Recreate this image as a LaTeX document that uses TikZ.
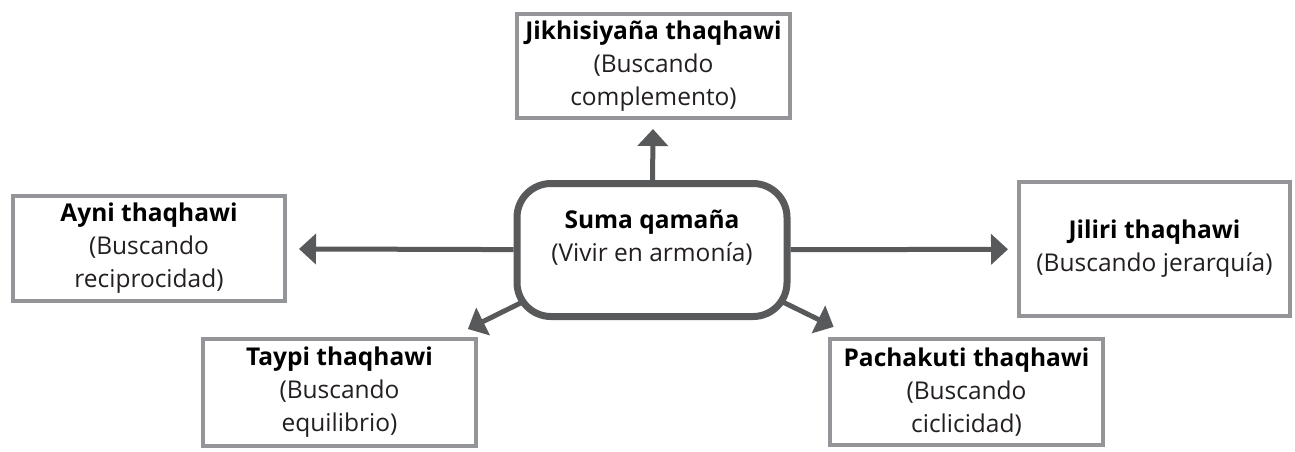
\documentclass[tikz,border=0pt]{standalone}
\usepackage{fontspec}
\setmainfont{Open Sans}
\usetikzlibrary{arrows.meta,backgrounds}
\definecolor{boxgray}{HTML}{939598}
\definecolor{hubgray}{HTML}{58595B}
\definecolor{txt}{HTML}{231F20}
\tikzset{
  box/.style={draw=boxgray, line width=4pt, fill=white, align=center, inner sep=0pt,
    text=txt, font=\fontsize{24.5}{33}\selectfont},
  hub/.style={draw=hubgray, line width=7pt, rounded corners=34pt, fill=white,
    minimum width=270pt, minimum height=133pt},
  hubtext/.style={align=center, inner sep=0pt, text=txt, font=\fontsize{24.5}{33}\selectfont},
  link/.style={draw=hubgray, line width=5pt, -{Triangle[length=17pt,width=30pt]}},
}
\newcommand{\hd}[1]{\textbf{\color{black}#1}}
\begin{document}
\begin{tikzpicture}[x=1pt,y=-1pt]
\useasboundingbox (0,0) rectangle (1295,451);
\node[box, minimum width=273pt, minimum height=104pt] (top) at (653.5,66)
  {\hd{Jikhisiyaña thaqhawi}\\(Buscando\\complemento)};
\node[box, minimum width=272pt, minimum height=105pt] (ayni) at (149,248.5)
  {\hd{Ayni thaqhawi}\\(Buscando\\reciprocidad)};
\node[box, minimum width=271pt, minimum height=134pt] (jiliri) at (1154.5,249)
  {\hd{Jiliri thaqhawi}\\(Buscando jerarquía)};
\node[box, minimum width=273pt, minimum height=107pt] (taypi) at (339.5,392.5)
  {\hd{Taypi thaqhawi}\\(Buscando\\equilibrio)};
\node[box, minimum width=273pt, minimum height=106pt] (pacha) at (966.5,392)
  {\hd{Pachakuti thaqhawi}\\(Buscando\\ciclicidad)};
\node[hub] (hub) at (652,250) {};
\node[hubtext] (hubtxt) at (652,238) {\hd{Suma qamaña}\\(Vivir en armonía)};
\coordinate (hubup) at (652,238);
\begin{pgfonlayer}{background}
  \draw[link, shorten >=9pt] (hub) -- (top);
  \draw[link, shorten >=12pt] (hub) -- (ayni);
  \draw[link, shorten >=9pt] (hub) -- (jiliri);
  \draw[link, shorten >=18pt] (hubup) -- (taypi);
  \draw[link, shorten >=23pt] (hubup) -- (pacha);
\end{pgfonlayer}
\end{tikzpicture}
\end{document}
